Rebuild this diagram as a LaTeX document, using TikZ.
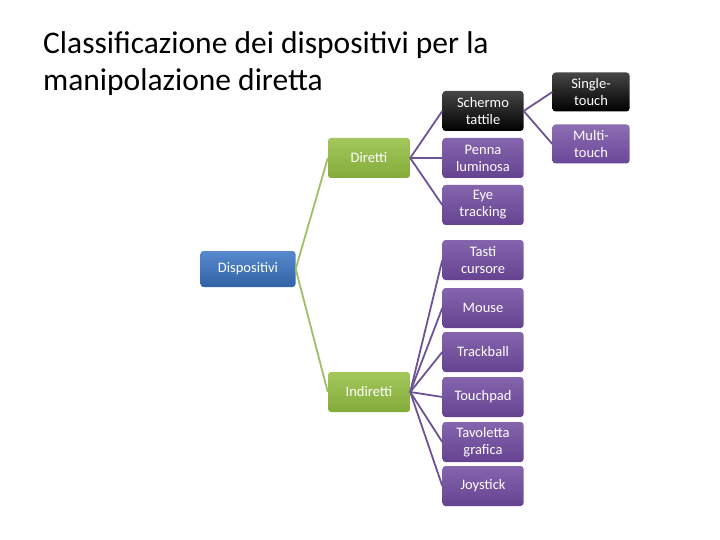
\documentclass[tikz,border=0pt]{standalone}
\usepackage{fontspec}
\setmainfont{Carlito}
\usepackage{xcolor}
\usetikzlibrary{positioning}

\definecolor{dispblue}{RGB}{58,116,196}
\definecolor{dirgreen}{RGB}{146,190,64}
\definecolor{leafpurple}{RGB}{112,74,160}
\definecolor{leafblack}{RGB}{24,24,24}
\definecolor{linkgreen}{RGB}{160,190,100}
\definecolor{linkpurple}{RGB}{110,82,150}

\begin{document}
\begin{tikzpicture}[
    x=1pt, y=-1pt,
    box/.style={rectangle, rounded corners=3pt, align=center, text=white, font=\fontsize{14.5}{17}\selectfont, minimum height=40pt, inner sep=1pt},
    root/.style={box, top color=dispblue!85!white, bottom color=dispblue!85!black, minimum width=95pt, minimum height=36pt},
    group/.style={box, top color=dirgreen!85!white, bottom color=dirgreen!90!black, minimum width=82pt},
    leaf/.style={box, top color=leafpurple!85!white, bottom color=leafpurple!90!black, minimum width=81pt},
    darkleaf/.style={box, top color=leafblack!80!white, bottom color=black, minimum width=81pt},
    subleaf/.style={box, minimum width=77pt, minimum height=39pt},
    glink/.style={linkgreen, line width=1.8pt},
    plink/.style={linkpurple, line width=1.8pt}
]
    \useasboundingbox (0,0) rectangle (720,540);

    % titolo
    \node[anchor=north west, align=left, inner sep=0pt, font=\fontsize{31.5}{37}\selectfont] (title) at (43,31)
        {Classificazione dei dispositivi per la\\manipolazione diretta};

    \node[root] (disp) at (248,269) {Dispositivi};
    \node[group] (dir) at (369,158) {Diretti};
    \node[group] (ind) at (369,392) {Indiretti};

    \node[darkleaf] (schermo) at (483,111) {Schermo\\tattile};
    \node[leaf] (penna) at (483,158) {Penna\\luminosa};
    \node[leaf] (eye) at (483,205) {Eye\\tracking};
    \node[leaf] (tasti) at (483,260) {Tasti\\cursore};
    \node[leaf] (mouse) at (483,308) {Mouse};
    \node[leaf] (track) at (483,352) {Trackball};
    \node[leaf] (touchpad) at (483,397) {Touchpad};
    \node[leaf] (tavoletta) at (483,442) {Tavoletta\\grafica};
    \node[leaf] (joy) at (483,486) {Joystick};

    \node[subleaf, top color=leafblack!80!white, bottom color=black] (single) at (591,92) {Single-\\touch};
    \node[subleaf, top color=leafpurple!80!white, bottom color=leafpurple!95!black] (multi) at (591,144) {Multi-\\touch};

    \draw[glink] (disp.east) -- (dir.west);
    \draw[glink] (disp.east) -- (ind.west);

    \draw[plink] (dir.east) -- (schermo.west);
    \draw[plink] (dir.east) -- (penna.west);
    \draw[plink] (dir.east) -- (eye.west);

    \draw[plink] (ind.east) -- (tasti.west);
    \draw[plink] (ind.east) -- (mouse.west);
    \draw[plink] (ind.east) -- (track.west);
    \draw[plink] (ind.east) -- (touchpad.west);
    \draw[plink] (ind.east) -- (tavoletta.west);
    \draw[plink] (ind.east) -- (joy.west);

    \draw[plink] (schermo.east) -- (single.west);
    \draw[plink] (schermo.east) -- (multi.west);
\end{tikzpicture}
\end{document}
